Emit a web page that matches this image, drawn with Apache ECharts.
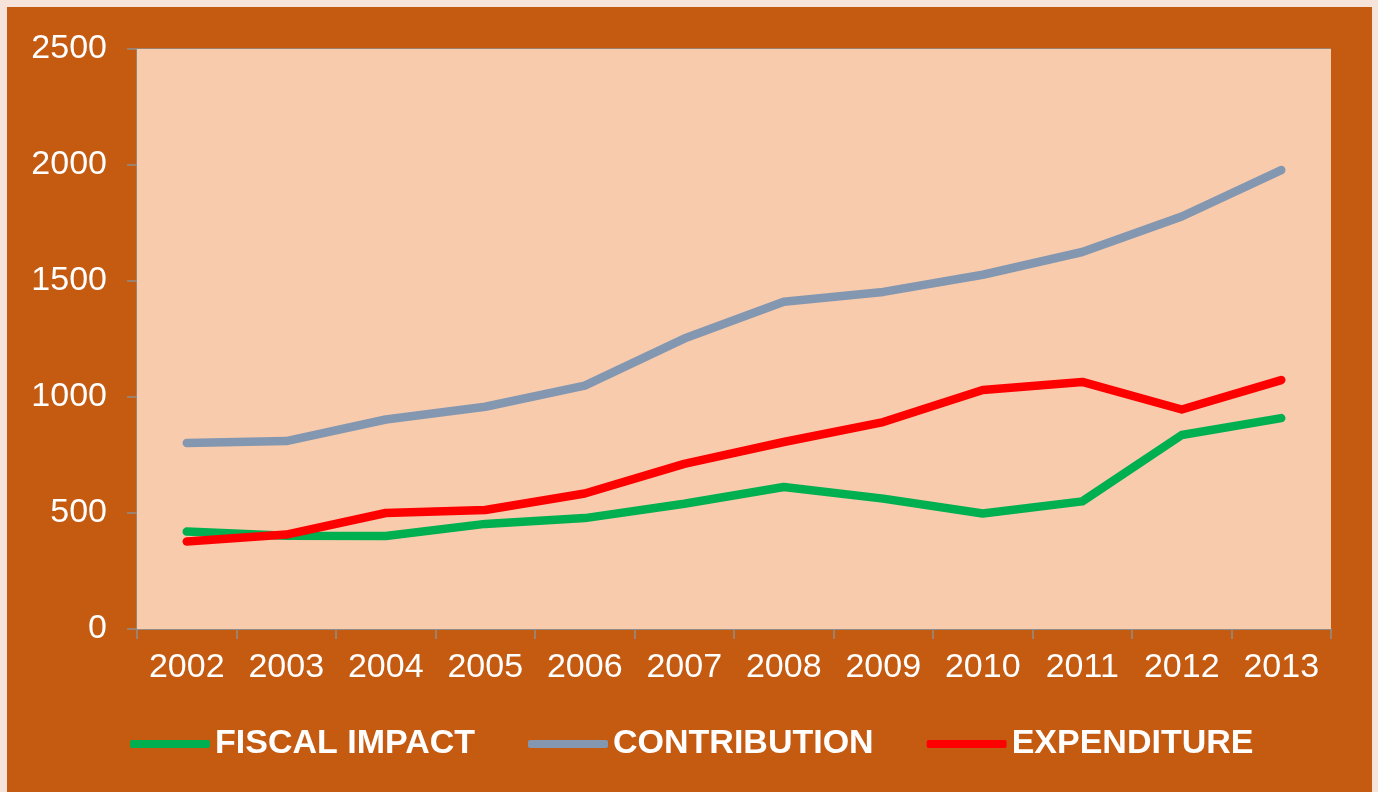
<!DOCTYPE html>
<html>
<head>
<meta charset="utf-8">
<script src="https://cdn.jsdelivr.net/npm/echarts@6/dist/echarts.min.js"></script>
<style>
  html, body { margin: 0; padding: 0; background: #F6E4DA; }
  #chart { width: 1378px; height: 792px; }
</style>
</head>
<body>
<div id="chart"></div>
<script>
const years = ['2002','2003','2004','2005','2006','2007','2008','2009','2010','2011','2012','2013'];
const fiscalImpact = [420, 402, 401, 453, 478, 540, 612, 562, 498, 550, 836, 909];
const contribution = [802, 810, 903, 958, 1049, 1252, 1411, 1453, 1527, 1625, 1778, 1978];
const expenditure  = [377, 407, 500, 513, 584, 712, 806, 892, 1030, 1065, 946, 1073];
const yTicks = { min: 0, max: 2500, interval: 500 };

const chart = echarts.init(document.getElementById('chart'));
const gridColor = '#8F8F8F';
chart.setOption({
  backgroundColor: '#F6E4DA',
  animation: false,
  graphic: [{
    type: 'rect', z: -100, silent: true,
    shape: { x: 7, y: 7, width: 1365, height: 790 },
    style: { fill: '#C55A11' }
  }],
  grid: {
    left: 137, right: 47, top: 49, bottom: 163,
    show: true, backgroundColor: '#F8CBAD', borderWidth: 0, z: 1
  },
  legend: {
    top: 727, left: 130, padding: 0,
    itemWidth: 80, itemHeight: 8, itemGap: 53,
    icon: 'roundRect',
    textStyle: {
      color: '#FFFFFF', fontSize: 34, fontWeight: 'bold',
      fontFamily: '"Liberation Sans", Arial, sans-serif'
    },
    data: ['FISCAL IMPACT', 'CONTRIBUTION', 'EXPENDITURE']
  },
  xAxis: {
    type: 'category', data: years, boundaryGap: true,
    axisLine: { lineStyle: { color: gridColor, width: 1.5 } },
    axisTick: { show: true, length: 10, alignWithLabel: false, lineStyle: { color: gridColor, width: 1.5 } },
    axisLabel: { color: '#FFFFFF', fontSize: 34, margin: 22, fontFamily: '"Liberation Sans", Arial, sans-serif' },
    splitLine: { show: false }
  },
  yAxis: {
    type: 'value', min: yTicks.min, max: yTicks.max, interval: yTicks.interval,
    axisLine: { show: true, lineStyle: { color: gridColor, width: 1.5 } },
    axisTick: { show: true, length: 10, lineStyle: { color: gridColor, width: 1.5 } },
    axisLabel: { color: '#FFFFFF', fontSize: 34, margin: 30, formatter: v => String(v),
      fontFamily: '"Liberation Sans", Arial, sans-serif' },
    splitLine: { show: true, lineStyle: { color: gridColor, width: 1.5 } }
  },
  series: [
    { name: 'FISCAL IMPACT', type: 'line', data: fiscalImpact, symbol: 'none', z: 3,
      lineStyle: { color: '#00B050', width: 8.5, cap: 'round', join: 'round' }, itemStyle: { color: '#00B050' } },
    { name: 'CONTRIBUTION', type: 'line', data: contribution, symbol: 'none', z: 3,
      lineStyle: { color: '#8497B0', width: 8.5, cap: 'round', join: 'round' }, itemStyle: { color: '#8497B0' } },
    { name: 'EXPENDITURE', type: 'line', data: expenditure, symbol: 'none', z: 3,
      lineStyle: { color: '#FF0000', width: 8.5, cap: 'round', join: 'round' }, itemStyle: { color: '#FF0000' } }
  ]
});
</script>
</body>
</html>
